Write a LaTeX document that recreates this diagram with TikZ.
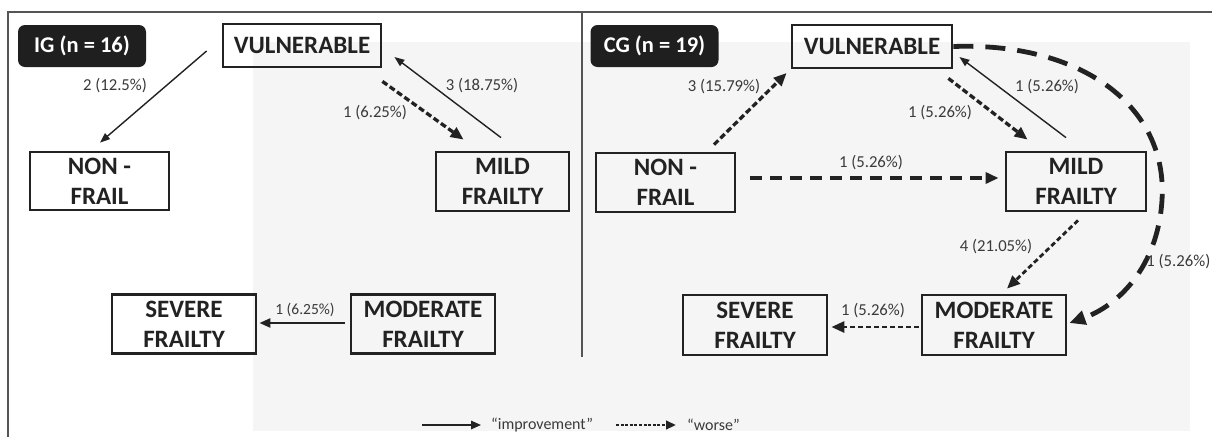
\documentclass[tikz,border=0pt]{standalone}
\usepackage{fontspec}
\setmainfont{Carlito}
\usetikzlibrary{arrows.meta,calc}
\definecolor{bggrey}{HTML}{F5F5F5}
\definecolor{frameline}{HTML}{555555}
\definecolor{boxtext}{HTML}{222222}
\definecolor{lbltext}{HTML}{3A3A3A}
\tikzset{
  statebox/.style={draw=boxtext, line width=2.8pt, inner sep=0pt, align=center,
    text=boxtext, font=\bfseries\fontsize{25}{30}\selectfont},
  grouptag/.style={fill=black!88, rounded corners=7pt, text=white, inner sep=0pt,
    minimum width=128pt, minimum height=42pt, font=\bfseries\fontsize{22.5}{26}\selectfont},
  lbl/.style={text=lbltext, font=\fontsize{16.7}{19}\selectfont, inner sep=1pt},
  slbl/.style={text=lbltext, font=\fontsize{15.5}{18}\selectfont, inner sep=1pt},
  imp/.style={draw=boxtext, line width=1.4pt, -{Triangle[length=10pt,width=7.5pt]}},
  impthick/.style={draw=boxtext, line width=2.4pt, -{Triangle[length=11pt,width=9pt]}},
  worse/.style={draw=boxtext, line width=3.3pt, dash pattern=on 6pt off 3pt,
    -{Triangle[length=13pt,width=11pt]}},
  longdash/.style={draw=boxtext, line width=3.3pt, dash pattern=on 12pt off 8pt,
    -{Triangle[length=13pt,width=11pt]}},
  curvedash/.style={draw=boxtext, line width=4.8pt, dash pattern=on 20pt off 12pt,
    -{Triangle[length=16pt,width=14pt]}},
  legtext/.style={text=lbltext, font=\fontsize{16}{18}\selectfont, inner sep=0pt},
}
\begin{document}
\begin{tikzpicture}[x=1pt,y=-1pt]
\useasboundingbox (0,0) rectangle (1212,437);
% background and frame
\fill[white] (0,0) rectangle (1212,437);
\fill[bggrey] (253,42) rectangle (1190,431);
\draw[frameline, line width=1.3pt] (8,437) -- (8,12) -- (1212,12);
\draw[frameline, line width=1.3pt] (582,12) -- (582,357);

% group tags
\node[grouptag] (igtag) at (82,46) {IG (n = 16)};
\node[grouptag] (cgtag) at (654.5,46) {CG (n = 19)};

% IG states
\node[statebox, minimum width=158pt, minimum height=43pt] (ivul) at (302,45.5) {VULNERABLE};
\node[statebox, minimum width=139pt, minimum height=58pt] (inon) at (99.5,181) {NON -\\FRAIL};
\node[statebox, minimum width=133pt, minimum height=59pt] (imild) at (502.5,181.5) {MILD\\FRAILTY};
\node[statebox, minimum width=144pt, minimum height=59pt] (isev) at (184,324) {SEVERE\\FRAILTY};
\node[statebox, minimum width=144pt, minimum height=59pt] (imod) at (423,324) {MODERATE\\FRAILTY};

% CG states
\node[statebox, minimum width=160pt, minimum height=43pt] (cvul) at (872,46.5) {VULNERABLE};
\node[statebox, minimum width=139pt, minimum height=59pt] (cnon) at (665.5,182.5) {NON -\\FRAIL};
\node[statebox, minimum width=140pt, minimum height=59pt] (cmild) at (1076,181.5) {MILD\\FRAILTY};
\node[statebox, minimum width=144pt, minimum height=60pt] (cmod) at (994,325) {MODERATE\\FRAILTY};
\node[statebox, minimum width=144pt, minimum height=60pt] (csev) at (755,325) {SEVERE\\FRAILTY};

% IG transitions
\draw[imp] ($(ivul.west)+(-15,5.5)$) -- ($(inon.north)+(0.5,-8)$);
\node[lbl] (l1) at (115,86) {2 (12.5\%)};
\draw[worse] ($(ivul.south east)+(0,13)$) -- ($(imild.north west)+(29,-11)$);
\node[lbl] (l2) at (375,113) {1 (6.25\%)};
\draw[imp] ($(imild.north)+(-1.5,-13)$) -- ($(ivul.east)+(12,11.5)$);
\node[lbl] (l3) at (482,86) {3 (18.75\%)};
\draw[impthick] ($(imod.west)+(-5,-1)$) -- ($(isev.east)+(2,-1)$);
\node[slbl] (l4) at (305,310) {1 (6.25\%)};

% CG transitions
\draw[worse] ($(cnon.north)+(48.5,-7)$) -- ($(cvul.west)+(-4,26.5)$);
\node[lbl] (l5) at (724,87) {3 (15.79\%)};
\draw[longdash] ($(cnon.east)+(14,-4.5)$) -- ($(cmild.west)+(-6,-3.5)$);
\node[lbl] (l6) at (871,163) {1 (5.26\%)};
\draw[worse] ($(cvul.south east)+(-5,9)$) -- ($(cmild.north west)+(23,-11)$);
\node[lbl] (l7) at (940,113) {1 (5.26\%)};
\draw[imp] ($(cmild.north)+(-10,-13)$) -- ($(cvul.east)+(6,10.5)$);
\node[lbl] (l8) at (1047,87) {1 (5.26\%)};
\draw[worse, line width=2.8pt, dash pattern=on 5pt off 3pt] ($(cmild.south)+(2,8)$) -- ($(cmod.north)+(13,-5)$);
\node[lbl] (l9) at (996,247) {4 (21.05\%)};
\draw[worse, line width=2.8pt, dash pattern=on 5pt off 3pt] ($(cmod.west)+(-2,2)$) -- ($(csev.east)+(3,2)$);
\node[lbl] (l10) at (873,311) {1 (5.26\%)};
\draw[curvedash] (cvul.east) .. controls (1080,42) and (1168,105) .. (1162,200)
   .. controls (1158,265) and (1120,305) .. ($(cmod.east)+(2,-2)$);
\node[lbl, anchor=east] (l11) at (1211.5,262) {1 (5.26\%)};

% legend
\coordinate (lga) at (422,425);
\coordinate (lgb) at (481,425);
\node[legtext, anchor=west] (legimp) at (491,425) {“improvement”};
\coordinate (lgc) at (616,425);
\coordinate (lgd) at (676,425);
\node[legtext, anchor=west] (legwor) at (687,425) {“worse”};
\draw[draw=boxtext, line width=1.5pt, -{Triangle[length=10pt,width=8.5pt]}] (lga) -- (lgb);
\draw[draw=boxtext, line width=2.4pt, dash pattern=on 3pt off 1.6pt, -{Triangle[length=10pt,width=8.5pt]}] (lgc) -- (lgd);
\end{tikzpicture}
\end{document}
